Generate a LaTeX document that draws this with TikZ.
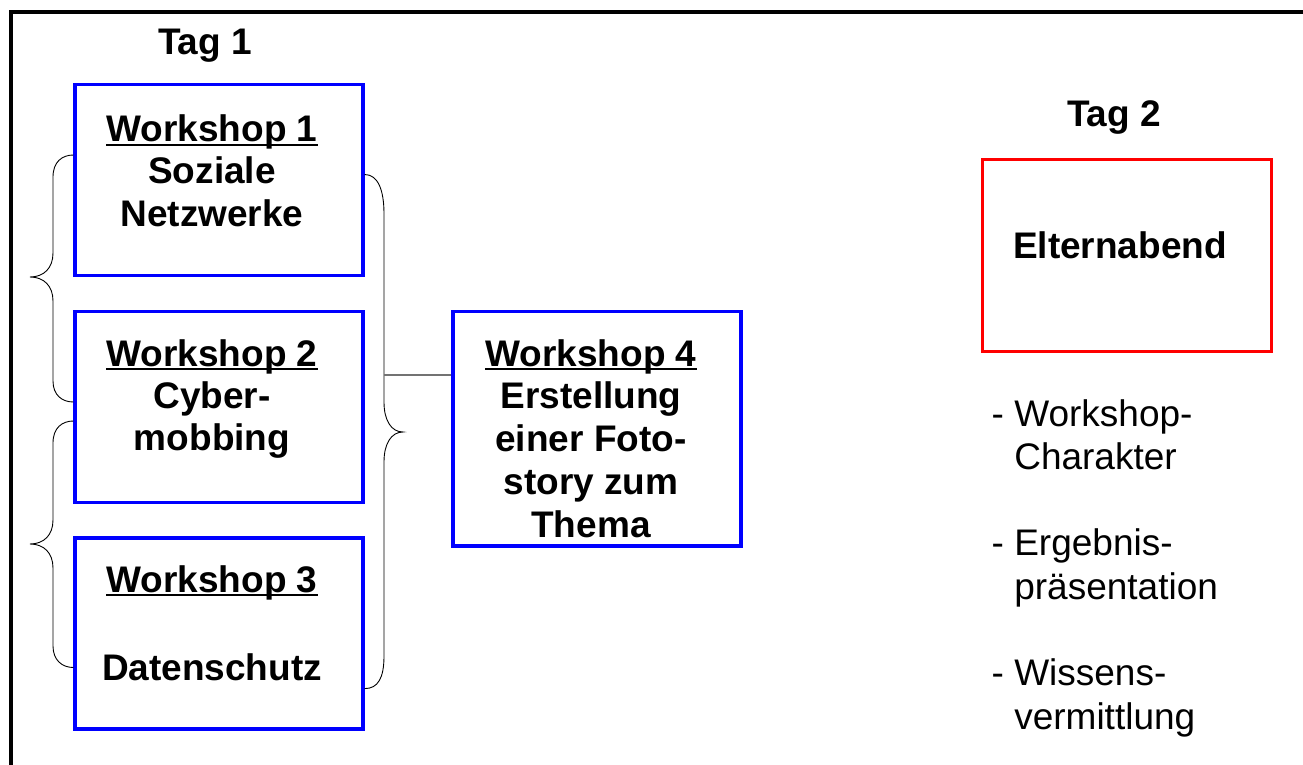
\documentclass[tikz,border=0pt]{standalone}
\usepackage{fontspec}
\setmainfont{Liberation Sans}
\newcommand\wsline[1]{\setbox0=\hbox{#1}\rlap{\rule[-4.2pt]{\wd0}{1.8pt}}\box0}
\begin{document}
\begin{tikzpicture}[x=1pt,y=-1pt,
  wsbox/.style={draw=blue, line width=3.2pt, minimum width=288pt, minimum height=191pt, inner sep=0pt},
  redbox/.style={draw=red, line width=3pt, minimum width=289pt, minimum height=192pt, inner sep=0pt},
  boldtxt/.style={anchor=base, inner sep=0pt, font=\fontsize{37}{42.4}\selectfont\bfseries},
  listtxt/.style={anchor=base west, inner sep=0pt, font=\fontsize{37}{43.3}\selectfont},
  bracestyle/.style={draw=black, line width=0.9pt},
  joinline/.style={draw=black!55, line width=1.2pt}
]
\useasboundingbox (0,0) rectangle (1303,765);
\clip (0,0) rectangle (1303,765);
% outer frame (only top and left edges visible)
\draw[line width=4pt] (11,780) -- (11,12) -- (1320,12);

% boxes
\node[wsbox] (ws1) at (219,179.75) {};
\node[wsbox] (ws2) at (219,407) {};
\node[wsbox] (ws3) at (219,633.5) {};
\node[wsbox, minimum height=234.5pt] (ws4) at (597,428.75) {};
\node[redbox] (elt) at (1126.5,255) {};

% texts
\node[boldtxt] (tag1) at (205,55) {Tag 1};
\node[boldtxt] (tag2) at (1114,126.7) {Tag 2};
\node[boldtxt] (elttxt) at (1120,258.5) {Elternabend};
\node[boldtxt] (ws1txt) at (212,141.3) {\begin{tabular}[t]{@{}c@{}}\wsline{Workshop 1}\\Soziale\\Netzwerke\end{tabular}};
\node[boldtxt] (ws2txt) at (212,366) {\begin{tabular}[t]{@{}c@{}}\wsline{Workshop 2}\\Cyber-\\mobbing\end{tabular}};
\node[boldtxt] (ws3txt) at (212,592) {\begin{tabular}[t]{@{}c@{}}\wsline{Workshop 3}\\ \\[3.2pt]Datenschutz\end{tabular}};
\node[boldtxt, font=\fontsize{37}{42.9}\selectfont\bfseries] (ws4txt) at (591,366) {\begin{tabular}[t]{@{}c@{}}\wsline{Workshop 4}\\Erstellung\\einer Foto-\\story zum\\Thema\end{tabular}};
\node[listtxt] (list) at (991.5,426) {\begin{tabular}[t]{@{}l@{}}- Workshop-\\\phantom{- }Charakter\\ \\- Ergebnis-\\\phantom{- }pr\"asentation\\ \\- Wissens-\\\phantom{- }vermittlung\end{tabular}};

% left braces
\draw[bracestyle] (ws1.west |- 0,155) .. controls (62,155) and (53,162) .. (53,177)
  -- (53,253) .. controls (53,268) and (44,277) .. (30,277)
  .. controls (44,277) and (53,286) .. (53,301)
  -- (53,381) .. controls (53,395) and (62,402) .. (ws1.west |- 0,402);
\draw[bracestyle] (ws2.west |- 0,421) .. controls (62,421) and (53,428) .. (53,443)
  -- (53,520) .. controls (53,535) and (44,544) .. (30,544)
  .. controls (44,544) and (53,553) .. (53,568)
  -- (53,646) .. controls (53,660) and (62,667.5) .. (ws3.west |- 0,667.5);

% right brace
\draw[bracestyle] (ws1.east |- 0,174.5) .. controls (378,174.5) and (384,190) .. (384,214)
  -- (384,402) .. controls (384,420) and (391,432) .. (403,432)
  .. controls (391,432) and (384,444) .. (384,462)
  -- (384,656) .. controls (384,678) and (378,688.6) .. (ws3.east |- 0,688.6);
\coordinate (bracemid) at (384,375);
\draw[joinline] (bracemid) -- (bracemid -| ws4.west);
\end{tikzpicture}
\end{document}
